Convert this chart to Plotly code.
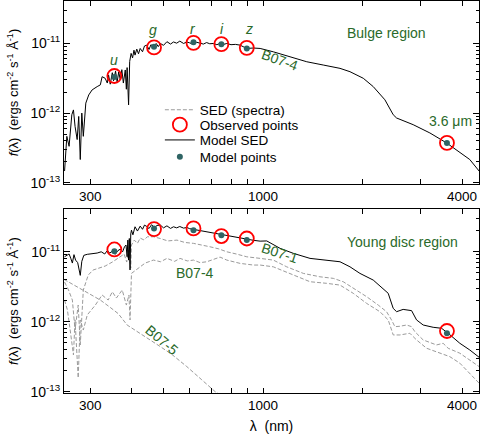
import numpy as np
import plotly.graph_objects as go

# ---- data (wavelength in nm, flux in units of 1e-12 ergs cm^-2 s^-1 A^-1) ----
bands = ["u", "g", "r", "i", "z", "3.6"]
band_wl = [355, 468, 616, 748, 893, 3600]

# bulge region
bulge_obs = [3.41, 8.77, 10.2, 9.77, 8.65, 0.373]
bulge_mod = [3.30, 8.94, 10.4, 9.77, 8.48, 0.373]

bulge_sed_wl = [251, 255, 259, 262, 264, 267, 270, 274, 277, 280, 283, 286, 291, 297,
                304, 315, 322, 326, 333, 338, 341, 345, 350, 353, 358, 362, 366, 370,
                374, 378, 383, 386, 388, 392, 395, 399, 403, 407, 410, 415, 420, 425,
                432, 438, 445, 452, 458, 466, 475, 482, 489, 500, 512, 525, 536, 548,
                560, 575, 588, 600, 615, 630, 645, 660, 675, 690, 708, 725, 745, 760,
                777, 800, 825, 852, 870, 893, 935, 980, 1074, 1207, 1356, 1521, 1709,
                1832, 2010, 2154, 2284, 2337, 2476, 2535, 2845, 3196, 3589, 3938, 4220,
                4503]
bulge_sed = [0.147, 0.463, 0.333, 0.644, 0.946, 1.11, 0.644, 0.416, 0.894, 0.215, 1.0,
             0.463, 1.39, 1.82, 2.15, 2.40, 2.54, 3.33, 3.16, 2.7, 3.53, 2.6, 3.8, 2.9,
             4.0, 2.8, 3.9, 3.0, 4.2, 2.7, 4.16, 2.2, 4.5, 1.31, 5.5, 7.2, 6.2, 8.0, 6.8,
             8.3, 7.1, 8.48, 7.6, 9.2, 9.46, 8.2, 9.6, 8.94, 10.0, 9.0, 10.0, 9.4, 10.6,
             9.8, 10.5, 10.1, 10.8, 10.0, 10.5, 10.2, 9.7, 10.4, 10.2, 9.8, 10.3, 9.9,
             10.0, 9.6, 10.1, 9.7, 10.0, 9.6, 9.7, 9.46, 9.0, 8.48, 8.6, 8.48, 7.59, 6.44,
             5.46, 4.90, 4.39, 3.93, 3.16, 2.40, 1.73, 1.55, 0.946, 0.849, 0.681, 0.518,
             0.373, 0.268, 0.215, 0.147]

# young disc region
disc_obs = [10.8, 21.1, 21.6, 16.8, 15.5, 0.736]
disc_mod = [10.2, 21.6, 20.4, 17.3, 14.7, 0.683]

disc_sed_wl = [251, 255, 259, 262, 265, 268, 271, 275, 280, 283, 287, 294, 306, 315, 324,
               332, 338, 344, 350, 357, 364, 370, 376, 381, 385, 388, 390, 392, 394, 396,
               398, 400, 404, 410, 417, 425, 432, 438, 445, 452, 460, 469, 478, 489, 500,
               512, 525, 536, 548, 560, 575, 588, 600, 616, 635, 655, 676, 700, 720, 741,
               775, 813, 850, 893, 935, 980, 1026, 1126, 1235, 1387, 1557, 1709, 1832,
               1964, 2154, 2309, 2391, 2476, 2535, 2653, 2814, 2913, 3051, 3270, 3467,
               3630, 3938, 4220, 4503]
disc_sed = [8.5, 9.0, 9.3, 8.1, 6.9, 9.1, 7.6, 7.0, 4.6, 7.3, 8.9, 9.2, 9.4, 9.6, 10.0,
            9.3, 10.4, 9.6, 10.2, 9.2, 10.4, 10.9, 10.0, 11.8, 12.5, 8.5, 14.7, 7.6, 15.5,
            5.5, 18.0, 20.4, 17.5, 22.8, 19.8, 23.3, 21.0, 24.1, 23.0, 21.5, 24.4, 22.3,
            23.8, 24.1, 22.0, 23.5, 21.6, 22.8, 22.0, 23.0, 21.8, 22.3, 21.4, 20.9, 20.3,
            19.9, 19.3, 18.8, 18.4, 17.9, 17.2, 16.4, 15.8, 15.0, 14.6, 14.2, 14.3, 11.2,
            9.5, 8.05, 7.61, 7.2, 6.1, 4.91, 3.94, 3.0, 2.55, 1.55, 1.39, 1.50, 1.44,
            1.06, 0.897, 0.832, 0.805, 0.683, 0.491, 0.394, 0.310]

b071_wl = [251, 258, 265, 270, 276, 280, 286, 296, 306, 320, 333, 350, 365, 380, 387,
           392, 398, 400, 408, 417, 425, 436, 447, 466, 489, 515, 549, 580, 616, 650,
           691, 735, 777, 830, 893, 980, 1074, 1179, 1324, 1486, 1631, 1748, 1919, 2057,
           2230, 2364, 2447, 2505, 2594, 2718, 2814, 2879, 3051, 3348, 3505, 3630, 3938,
           4220, 4503]
b071 = [3.69, 2.84, 2.04, 0.76, 1.73, 0.465, 2.84, 4.65, 5.48, 5.85, 6.25, 7.13, 8.13,
        9.27, 7.13, 10.6, 5.85, 12.5, 14.7, 13.2, 15.7, 14.8, 16.4, 16.4, 15.5, 14.3,
        14.7, 13.6, 13.2, 12.6, 11.8, 11.0, 10.0, 9.3, 8.48, 8.05, 7.61, 6.1, 4.91, 4.39,
        4.17, 3.73, 2.84, 2.28, 1.73, 1.39, 1.06, 0.849, 0.86, 0.897, 0.849, 0.72, 0.548,
        0.465, 0.491, 0.417, 0.354, 0.284, 0.228]

b074_wl = [251, 256, 261, 267, 270, 276, 280, 286, 294, 311, 326, 340, 350, 360, 375,
           386, 393, 396, 400, 410, 425, 440, 466, 490, 512, 540, 561, 590, 616, 645,
           676, 741, 777, 852, 935, 980, 1074, 1235, 1387, 1557, 1709, 1874, 2057, 2257,
           2391, 2476, 2594, 2780, 2913, 3124, 3425, 3673, 3938, 4220, 4503]
b074 = [2.04, 1.47, 0.76, 0.334, 1.06, 0.157, 1.06, 0.76, 1.25, 1.73, 2.41, 2.04, 2.68,
        2.18, 2.84, 1.73, 2.41, 1.06, 4.91, 5.4, 6.1, 6.9, 7.61, 7.2, 8.05, 7.3, 8.05,
        7.4, 7.61, 7.0, 7.2, 8.4, 7.61, 6.83, 6.46, 6.46, 6.1, 4.65, 3.73, 3.54, 3.34,
        2.55, 1.83, 1.39, 1.06, 0.646, 0.646, 0.683, 0.548, 0.417, 0.354, 0.316, 0.255,
        0.183, 0.132]

b075_wl = [250, 270, 300, 322, 345, 365, 388, 405, 425, 455, 489, 530, 588, 650, 716, 768]
b075 = [4.03, 3.3, 2.5, 2.04, 1.6, 1.3, 0.897, 0.79, 0.683, 0.55, 0.44, 0.34, 0.228,
        0.15, 0.10, 0.081]

E12 = 1e-12
RED = "#ff0000"
TEAL = "#2f6464"
GREEN = "#2a6a2a"
GREY = "#9a9a9a"
FONT = "Arial, Liberation Sans, sans-serif"

fig = go.Figure()

# grey SED components (bottom panel)
for i, (wl, fl) in enumerate([(b071_wl, b071), (b074_wl, b074), (b075_wl, b075)]):
    fig.add_trace(go.Scatter(
        x=wl, y=np.array(fl) * E12, mode="lines", xaxis="x", yaxis="y",
        line=dict(color=GREY, width=1, dash="4px,2px"),
        name="SED (spectra)", legend="legend", showlegend=(i == 0)))

# model SEDs
fig.add_trace(go.Scatter(x=bulge_sed_wl, y=np.array(bulge_sed) * E12, mode="lines",
                         xaxis="x2", yaxis="y2", line=dict(color="black", width=1),
                         name="Model SED", legend="legend3"))
fig.add_trace(go.Scatter(x=disc_sed_wl, y=np.array(disc_sed) * E12, mode="lines",
                         xaxis="x", yaxis="y", line=dict(color="black", width=1),
                         showlegend=False))

# observed and model points
for ax, ay, obs, mod, leg in [("x2", "y2", bulge_obs, bulge_mod, True),
                              ("x", "y", disc_obs, disc_mod, False)]:
    fig.add_trace(go.Scatter(
        x=band_wl, y=np.array(obs) * E12, mode="markers", xaxis=ax, yaxis=ay,
        marker=dict(symbol="circle-open", size=14, color=RED, line=dict(width=1.8)),
        name="Observed points", showlegend=leg, legend="legend2"))
    fig.add_trace(go.Scatter(
        x=band_wl, y=np.array(mod) * E12, mode="markers", xaxis=ax, yaxis=ay,
        marker=dict(symbol="circle", size=6, color=TEAL),
        name="Model points", showlegend=leg, legend="legend4"))

xticks = [300, 1000, 4000]
xminor = [400, 500, 600, 700, 800, 900, 2000, 3000]
yticks = [1e-13, 1e-12, 1e-11]
ytext = ["10<sup>-13</sup>", "10<sup>-12</sup>", "10<sup>-11</sup>"]
yminor = [k * 10.0 ** e for e in (-13, -12, -11) for k in range(2, 10)]

xaxis_common = dict(type="log", range=[np.log10(250), np.log10(4500)],
                    tickmode="array", tickvals=xticks, ticktext=[str(v) for v in xticks],
                    ticks="inside", ticklen=5, tickcolor="black",
                    minor=dict(tickmode="array", tickvals=xminor, ticks="inside",
                               ticklen=5, tickcolor="black"),
                    showline=True, linecolor="black", linewidth=1, mirror="ticks",
                    showgrid=False, zeroline=False, automargin=False,
                    tickfont=dict(family=FONT, size=13.5, color="black"))
yaxis_common = dict(type="log", range=[-13.02, -10.39],
                    tickmode="array", tickvals=yticks, ticktext=ytext,
                    ticks="inside", ticklen=6, tickcolor="black",
                    minor=dict(tickmode="array", tickvals=yminor, ticks="inside",
                               ticklen=3, tickcolor="black"),
                    showline=True, linecolor="black", linewidth=1, mirror="ticks",
                    showgrid=False, zeroline=False, automargin=False,
                    tickfont=dict(family=FONT, size=14, color="black"),
                    title=dict(text="<i>f</i>(λ)  (ergs cm<sup>-2</sup> s<sup>-1</sup> Å<sup>-1</sup>)",
                               font=dict(family=FONT, size=13, color="black"), standoff=8))

legend_style = dict(x=0.231, xanchor="left", yanchor="middle", bgcolor="rgba(0,0,0,0)",
                    font=dict(family=FONT, size=13.5, color="black"), itemwidth=30)

fig.update_layout(
    width=480, height=435,
    margin=dict(l=64, r=1, t=1, b=42),
    paper_bgcolor="white", plot_bgcolor="white",
    xaxis=dict(xaxis_common, domain=[0, 1], anchor="y",
               title=dict(text="λ  (nm)", font=dict(family=FONT, size=14, color="black"),
                          standoff=8)),
    yaxis=dict(yaxis_common, domain=[0, 0.469], anchor="x"),
    xaxis2=dict(xaxis_common, domain=[0, 1], anchor="y2"),
    yaxis2=dict(yaxis_common, domain=[0.533, 1], anchor="x2"),
    showlegend=True,
    legend=dict(legend_style, y=0.722),
    legend2=dict(legend_style, y=0.684),
    legend3=dict(legend_style, y=0.645),
    legend4=dict(legend_style, y=0.602),
)

labels = [
    ("<i>u</i>", 0.1205, 0.849, 0), ("<i>g</i>", 0.2145, 0.926, 0),
    ("<i>r</i>", 0.311, 0.9286, 0), ("<i>i</i>", 0.381, 0.9286, 0),
    ("<i>z</i>", 0.4458, 0.9286, 0),
    ("B07-4", 0.5205, 0.8495, 20), ("Bulge region", 0.776, 0.918, 0),
    ("3.6 μm", 0.9325, 0.694, 0), ("Young disc region", 0.8145, 0.385, 0),
    ("B07-1", 0.5205, 0.357, 18), ("B07-4", 0.3157, 0.306, 0),
    ("B07-5", 0.236, 0.135, 40),
]
for text, x, y, ang in labels:
    fig.add_annotation(text=text, x=x, y=y, xref="paper", yref="paper",
                       xanchor="center", yanchor="middle",
                       showarrow=False, textangle=ang,
                       font=dict(family=FONT, size=14, color=GREEN))

# the page body has a default 8px margin; drop it so the figure fills the window
fig.write_html("out.html", config={"displayModeBar": False},
               post_script="document.body.style.margin='0';")
